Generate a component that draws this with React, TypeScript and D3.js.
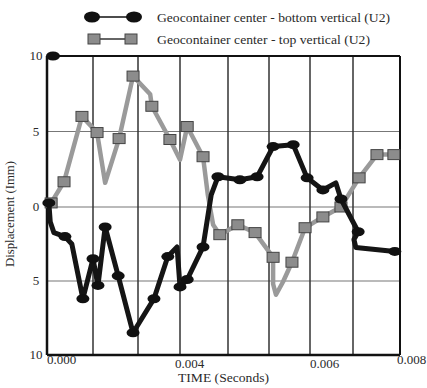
import React from 'react';
import * as d3 from 'd3';

// x positions are in grid units (one per vertical grid line), as the original axis is not to scale
const xGridIndex = [0, 1, 2, 3, 4, 5, 6, 7, 8];
const xGridPx = [47, 93, 138, 180, 228, 269, 310, 353, 400];
const xTickLabels = ['0.000', '', '', '0.004', '', '', '0.006', '', '0.008'];
const yTicks = [10, 5, 0, -5, -10];

// Geocontainer center - bottom vertical (U2)
const bottomT = [0.04, 0.07, 0.15, 0.39, 0.54, 0.78, 1.0, 1.11, 1.27, 1.56, 1.89, 2.38, 2.71, 2.93, 3.0, 3.15, 3.48, 3.65, 3.79, 4.29, 4.71, 5.1, 5.59, 5.93, 6.3, 6.6, 6.72, 7.11, 7.02, 7.06, 7.89];
const bottomU = [0.27, -1.0, -1.73, -2.0, -2.5, -6.2, -3.5, -5.3, -1.35, -4.65, -8.5, -6.2, -3.35, -2.7, -5.4, -4.9, -2.7, 0.8, 2.0, 1.8, 2.0, 4.0, 4.13, 1.93, 1.13, 1.6, 0.53, -1.67, -2.2, -2.73, -3.0];
const bottomMark = [1, 0, 0, 1, 0, 1, 1, 1, 1, 1, 1, 1, 1, 0, 1, 1, 1, 0, 1, 1, 1, 1, 1, 1, 1, 0, 1, 1, 0, 0, 1];
const strayT = [0.13];
const strayU = [10];

// Geocontainer center - top vertical (U2)
const topT = [0.09, 0.37, 0.76, 1.09, 1.27, 1.58, 1.89, 2.29, 2.33, 2.76, 3.0, 3.15, 3.48, 3.58, 3.69, 3.83, 4.24, 4.66, 5.1, 5.1, 5.17, 5.34, 5.56, 5.88, 6.3, 6.72, 7.13, 7.51, 7.87];
const topU = [0.27, 1.67, 6.0, 4.93, 1.6, 4.53, 8.67, 7.47, 6.67, 4.47, 3.13, 5.33, 3.33, 0.8, -1.2, -1.87, -1.2, -1.73, -3.4, -5.2, -5.93, -5.07, -3.73, -1.4, -0.67, 0, 1.93, 3.47, 3.47];
const topMark = [1, 1, 1, 1, 0, 1, 1, 0, 1, 1, 0, 1, 1, 0, 0, 1, 1, 1, 1, 0, 0, 0, 1, 1, 1, 1, 1, 1, 1];

const FONT = "'Times New Roman', 'Liberation Serif', 'DejaVu Serif', serif";
const TEXT = '#2a2a2a';
const GREY = '#9a9a9a';

export default function App() {
  const x = d3.scaleLinear().domain(xGridIndex).range(xGridPx);
  const y = d3.scaleLinear().domain([-10, 0, 10]).range([355, 207, 56]);

  const bottom = bottomT.map((t, i) => ({ t, u: bottomU[i], m: bottomMark[i] }));
  const top = topT.map((t, i) => ({ t, u: topU[i], m: topMark[i] }));

  const line = d3
    .line<{ t: number; u: number }>()
    .x((d) => x(d.t))
    .y((d) => y(d.u));

  const x0 = x(0);
  const x1 = x(8);
  const yTop = y(10);
  const yBot = y(-10);

  const txt = { fontFamily: FONT, fill: TEXT };

  return (
    <svg width={427} height={388} style={{ position: 'absolute', left: 0, top: 0, background: '#fff' }}>
      {/* legend */}
      <g>
        <line x1={92} x2={134} y1={17} y2={17} stroke="#111" strokeWidth={1.5} />
        <ellipse cx={92} cy={17} rx={8} ry={5.5} fill="#111" />
        <ellipse cx={134} cy={17} rx={8} ry={5.5} fill="#111" />
        <text x={157} y={22} fontSize={12.5} textLength={233} lengthAdjust="spacingAndGlyphs" {...txt}>
          Geocontainer center - bottom vertical (U2)
        </text>
        <line x1={94} x2={131} y1={39} y2={39} stroke="#333" strokeWidth={1.5} />
        <rect x={88} y={34} width={12} height={10} fill="#8c8c8c" stroke="#444" strokeWidth={1} />
        <rect x={125} y={34} width={12} height={10} fill="#8c8c8c" stroke="#444" strokeWidth={1} />
        <text x={157} y={44} fontSize={12.5} textLength={213} lengthAdjust="spacingAndGlyphs" {...txt}>
          Geocontainer center - top vertical (U2)
        </text>
      </g>

      {/* grid */}
      {yTicks.map((v) => (
        <line key={'h' + v} x1={x0} x2={x1} y1={y(v)} y2={y(v)} stroke="#777" strokeWidth={1.2} />
      ))}
      {xGridIndex.map((g) => (
        <line key={'v' + g} x1={x(g)} x2={x(g)} y1={yTop} y2={yBot} stroke="#333" strokeWidth={1.5} />
      ))}
      {/* frame */}
      <line x1={x0} x2={x1} y1={yTop} y2={yTop} stroke="#111" strokeWidth={2} />
      <line x1={x0} x2={x1} y1={yBot} y2={yBot} stroke="#111" strokeWidth={2.5} />
      <line x1={x0} x2={x0} y1={yTop} y2={yBot} stroke="#111" strokeWidth={2.5} />
      <line x1={x1} x2={x1} y1={yTop} y2={yBot} stroke="#111" strokeWidth={2} />

      {/* y tick labels */}
      {yTicks.map((v) => (
        <text key={'yl' + v} x={36} y={y(v) + 4} fontSize={13} textAnchor="middle" {...txt}>
          {Math.abs(v)}
        </text>
      ))}
      {/* x tick labels */}
      {xGridIndex.map((g) =>
        xTickLabels[g] ? (
          <text
            key={'xl' + g}
            x={x(g) - (g === 3 ? 5 : g === 8 ? 3 : 0)}
            y={g === 0 || g === 8 ? 364 : 368}
            fontSize={13}
            {...txt}
          >
            {xTickLabels[g]}
          </text>
        ) : null
      )}
      <text x={178} y={382} fontSize={13} textLength={91} lengthAdjust="spacingAndGlyphs" {...txt}>
        TIME (Seconds)
      </text>
      <text
        transform={`translate(14,214) rotate(-90)`}
        fontSize={12}
        textAnchor="middle"
        textLength={106}
        lengthAdjust="spacingAndGlyphs"
        {...txt}
      >
        Displacement (Imm)
      </text>

      {/* series */}
      <path d={line(top) ?? ''} fill="none" stroke={GREY} strokeWidth={4.5} strokeLinejoin="round" strokeLinecap="round" />
      {top
        .filter((d) => d.m)
        .map((d, i) => (
          <rect key={'s' + i} x={x(d.t) - 6} y={y(d.u) - 5} width={12} height={10} fill="#8c8c8c" stroke="#444" strokeWidth={1} />
        ))}
      <path d={line(bottom) ?? ''} fill="none" stroke="#151515" strokeWidth={5} strokeLinejoin="round" strokeLinecap="round" />
      {bottom
        .filter((d) => d.m)
        .map((d, i) => (
          <ellipse key={'e' + i} cx={x(d.t)} cy={y(d.u)} rx={6.5} ry={4.5} fill="#111" />
        ))}
      {strayT.map((t, i) => (
        <ellipse key={'st' + i} cx={x(t)} cy={y(strayU[i])} rx={7} ry={4.5} fill="#111" />
      ))}
    </svg>
  );
}
